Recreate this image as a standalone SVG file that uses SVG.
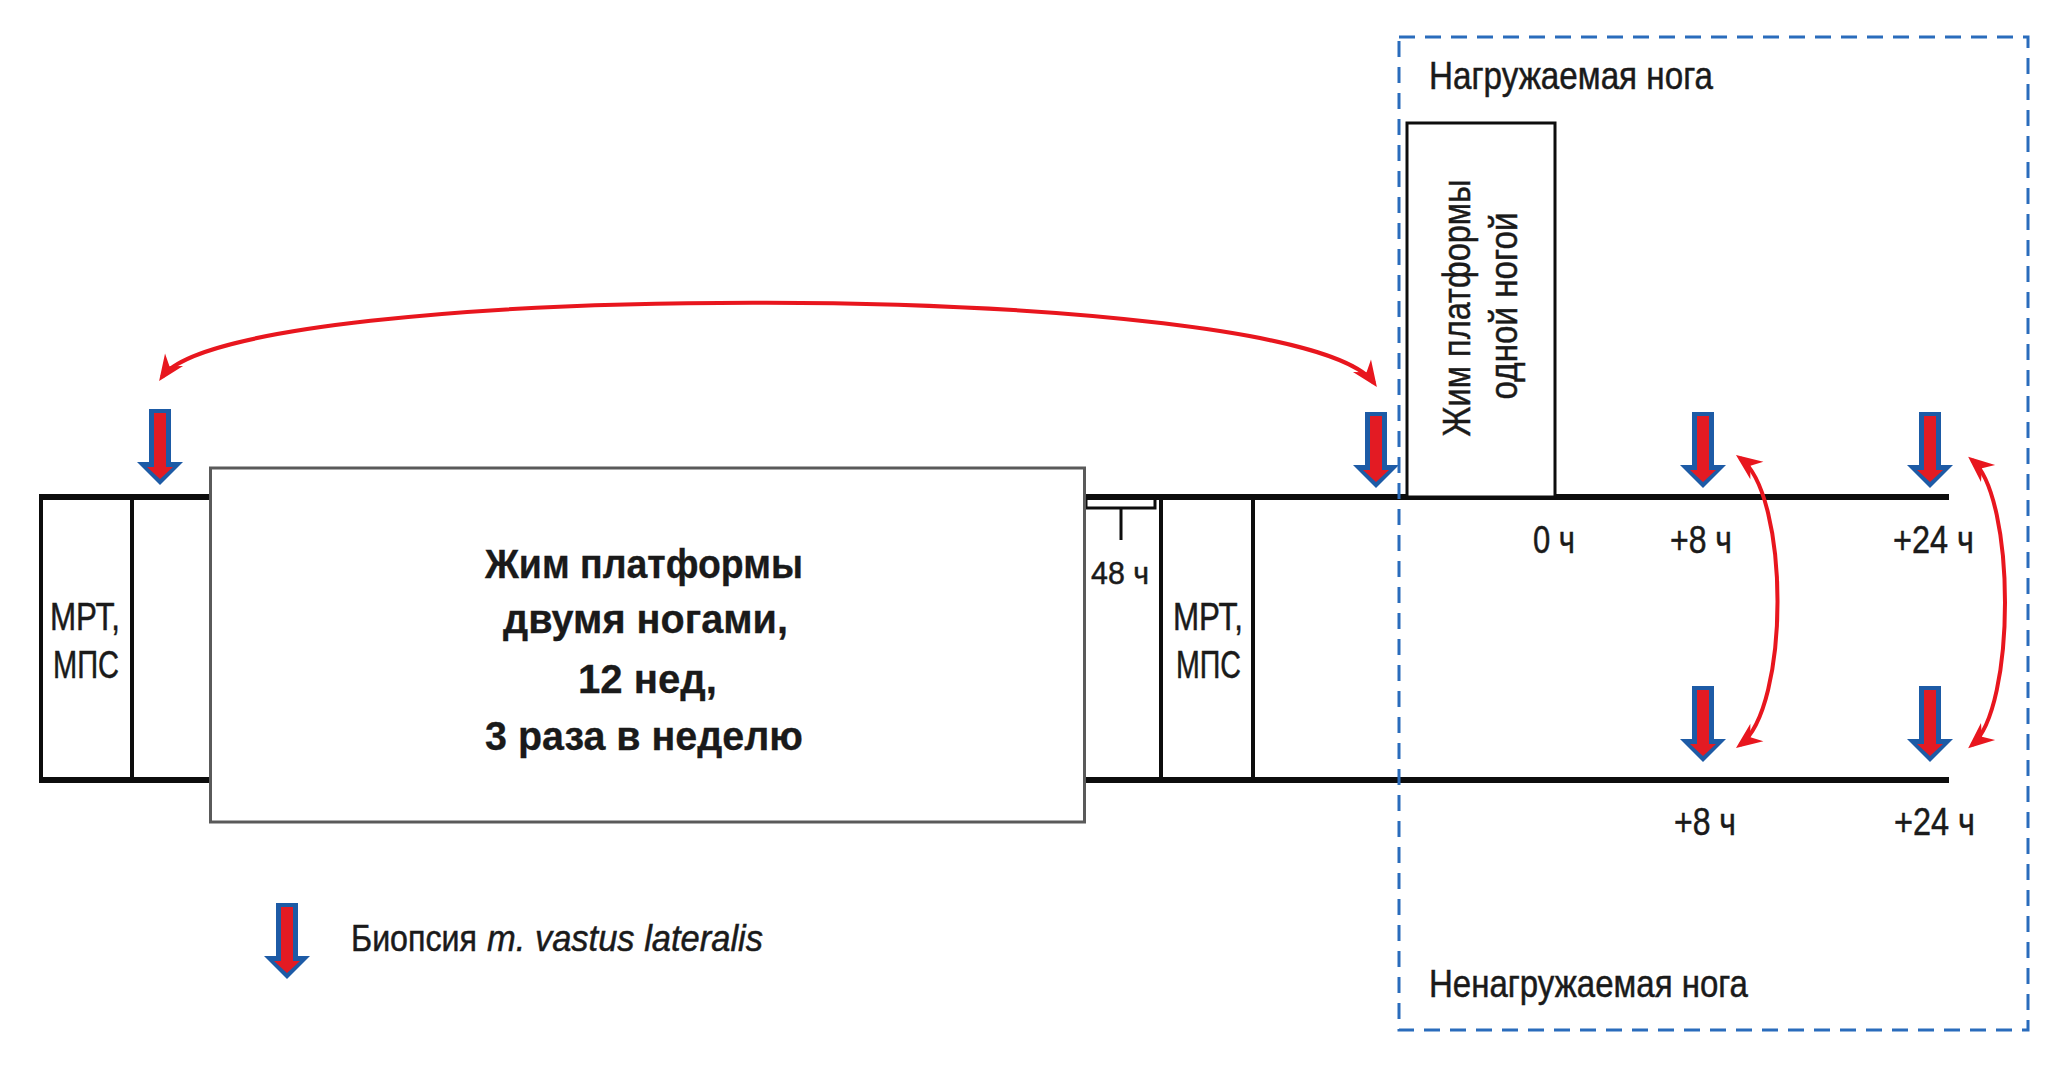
<svg xmlns="http://www.w3.org/2000/svg" xmlns:xlink="http://www.w3.org/1999/xlink" width="2058" height="1066" viewBox="0 0 2058 1066">
<style>
.t{font-family:"Liberation Sans Narrow","Liberation Sans",Arial,sans-serif;fill:#1a1a1a;font-size:39px;stroke:#1a1a1a;stroke-width:0.5}
.b{font-weight:bold;font-size:41px;stroke-width:0.3}
.it{font-style:italic}
.main{stroke:#0d0d0d;stroke-width:6;fill:none}
.vert{stroke:#0d0d0d;stroke-width:4;fill:none}
.red{stroke:#e8161e;stroke-width:4;fill:none}
</style>
<defs>
<marker id="ah" markerUnits="userSpaceOnUse" markerWidth="40" markerHeight="40" viewBox="-30 -15 40 30" refX="0" refY="0" orient="auto-start-reverse">
<path d="M5,0 L-21,-11 L-13,0 L-21,11 Z" fill="#e8161e"/>
</marker>
<g id="bio">
<path d="M-11,0 H11 V53 H23 L0,76 L-23,53 H-11 Z" fill="#1d5ba6"/>
<path d="M-6,4 H6 V58 H13 L0,70 L-13,58 H-6 Z" fill="#e31b23"/>
</g>
</defs>
<rect width="2058" height="1066" fill="#ffffff"/>

<g id="timeline">
<path class="main" d="M39,497 H1949"/>
<path class="main" d="M39,780 H1949"/>
<path class="vert" d="M41,497 V780 M132,497 V780 M1161,497 V780 M1253,497 V780"/>
<path d="M1086,497 V508 H1155 V497 M1121,508 V540" stroke="#0d0d0d" stroke-width="3" fill="none"/>
</g>

<g id="node-mrt1">
<text class="t" x="50" y="630" textLength="70" lengthAdjust="spacingAndGlyphs">МРТ,</text>
<text class="t" x="53" y="678" textLength="66" lengthAdjust="spacingAndGlyphs">МПС</text>
</g>

<g id="node-training">
<rect x="210.5" y="468" width="874" height="354" fill="#ffffff" stroke="#5a5a5a" stroke-width="3"/>
<text class="t b" x="485" y="578" textLength="318" lengthAdjust="spacingAndGlyphs">Жим платформы</text>
<text class="t b" x="503" y="633" textLength="285" lengthAdjust="spacingAndGlyphs">двумя ногами,</text>
<text class="t b" x="578" y="693" textLength="139" lengthAdjust="spacingAndGlyphs">12 нед,</text>
<text class="t b" x="485" y="750" textLength="318" lengthAdjust="spacingAndGlyphs">3 раза в неделю</text>
</g>

<g id="node-48h">
<text class="t" style="font-size:32px" x="1091" y="584" textLength="58" lengthAdjust="spacingAndGlyphs">48 ч</text>
</g>

<g id="node-mrt2">
<text class="t" x="1173" y="630" textLength="70" lengthAdjust="spacingAndGlyphs">МРТ,</text>
<text class="t" x="1176" y="678" textLength="65" lengthAdjust="spacingAndGlyphs">МПС</text>
</g>

<g id="node-single">
<rect x="1407" y="123" width="148" height="374" fill="#ffffff" stroke="#0d0d0d" stroke-width="3"/>
<text class="t" text-anchor="middle" transform="translate(1470,308) rotate(-90)" textLength="257" lengthAdjust="spacingAndGlyphs">Жим платформы</text>
<text class="t" text-anchor="middle" transform="translate(1517,306) rotate(-90)" textLength="187" lengthAdjust="spacingAndGlyphs">одной ногой</text>
</g>

<g id="node-labels">
<text class="t" x="1533" y="553" textLength="42" lengthAdjust="spacingAndGlyphs">0 ч</text>
<text class="t" x="1670" y="553" textLength="62" lengthAdjust="spacingAndGlyphs">+8 ч</text>
<text class="t" x="1893" y="553" textLength="81" lengthAdjust="spacingAndGlyphs">+24 ч</text>
<text class="t" x="1674" y="835" textLength="62" lengthAdjust="spacingAndGlyphs">+8 ч</text>
<text class="t" x="1894" y="835" textLength="81" lengthAdjust="spacingAndGlyphs">+24 ч</text>
<text class="t" x="1429" y="89" textLength="284" lengthAdjust="spacingAndGlyphs">Нагружаемая нога</text>
<text class="t" x="1429" y="997" textLength="319" lengthAdjust="spacingAndGlyphs">Ненагружаемая нога</text>
</g>

<g id="node-biopsies">
<use xlink:href="#bio" href="#bio" transform="translate(160,409)"/>
<use xlink:href="#bio" href="#bio" transform="translate(1376,412)"/>
<use xlink:href="#bio" href="#bio" transform="translate(1703,412)"/>
<use xlink:href="#bio" href="#bio" transform="translate(1930,412)"/>
<use xlink:href="#bio" href="#bio" transform="translate(1703,686)"/>
<use xlink:href="#bio" href="#bio" transform="translate(1930,686)"/>
</g>

<g id="node-legend">
<use xlink:href="#bio" href="#bio" transform="translate(287,903)"/>
<text class="t" style="font-size:37px" x="351" y="951" textLength="126" lengthAdjust="spacingAndGlyphs">Биопсия</text>
<text class="t it" style="font-size:37px" x="487" y="951" textLength="276" lengthAdjust="spacingAndGlyphs">m. vastus lateralis</text>
</g>

<g id="region-box">
<rect x="1399" y="37" width="629" height="993" fill="none" stroke="#2a6cbc" stroke-width="3" stroke-dasharray="16 10"/>
</g>

<g id="connectors">
<path class="red" marker-start="url(#ah)" marker-end="url(#ah)" d="M162,377 C232,277 1300,277 1374,383"/>
<path class="red" marker-start="url(#ah)" marker-end="url(#ah)" d="M1740,458 C1790,495 1790,708 1740,745"/>
<path class="red" marker-start="url(#ah)" marker-end="url(#ah)" d="M1972,460 C2016,497 2016,708 1972,745"/>
</g>
</svg>
